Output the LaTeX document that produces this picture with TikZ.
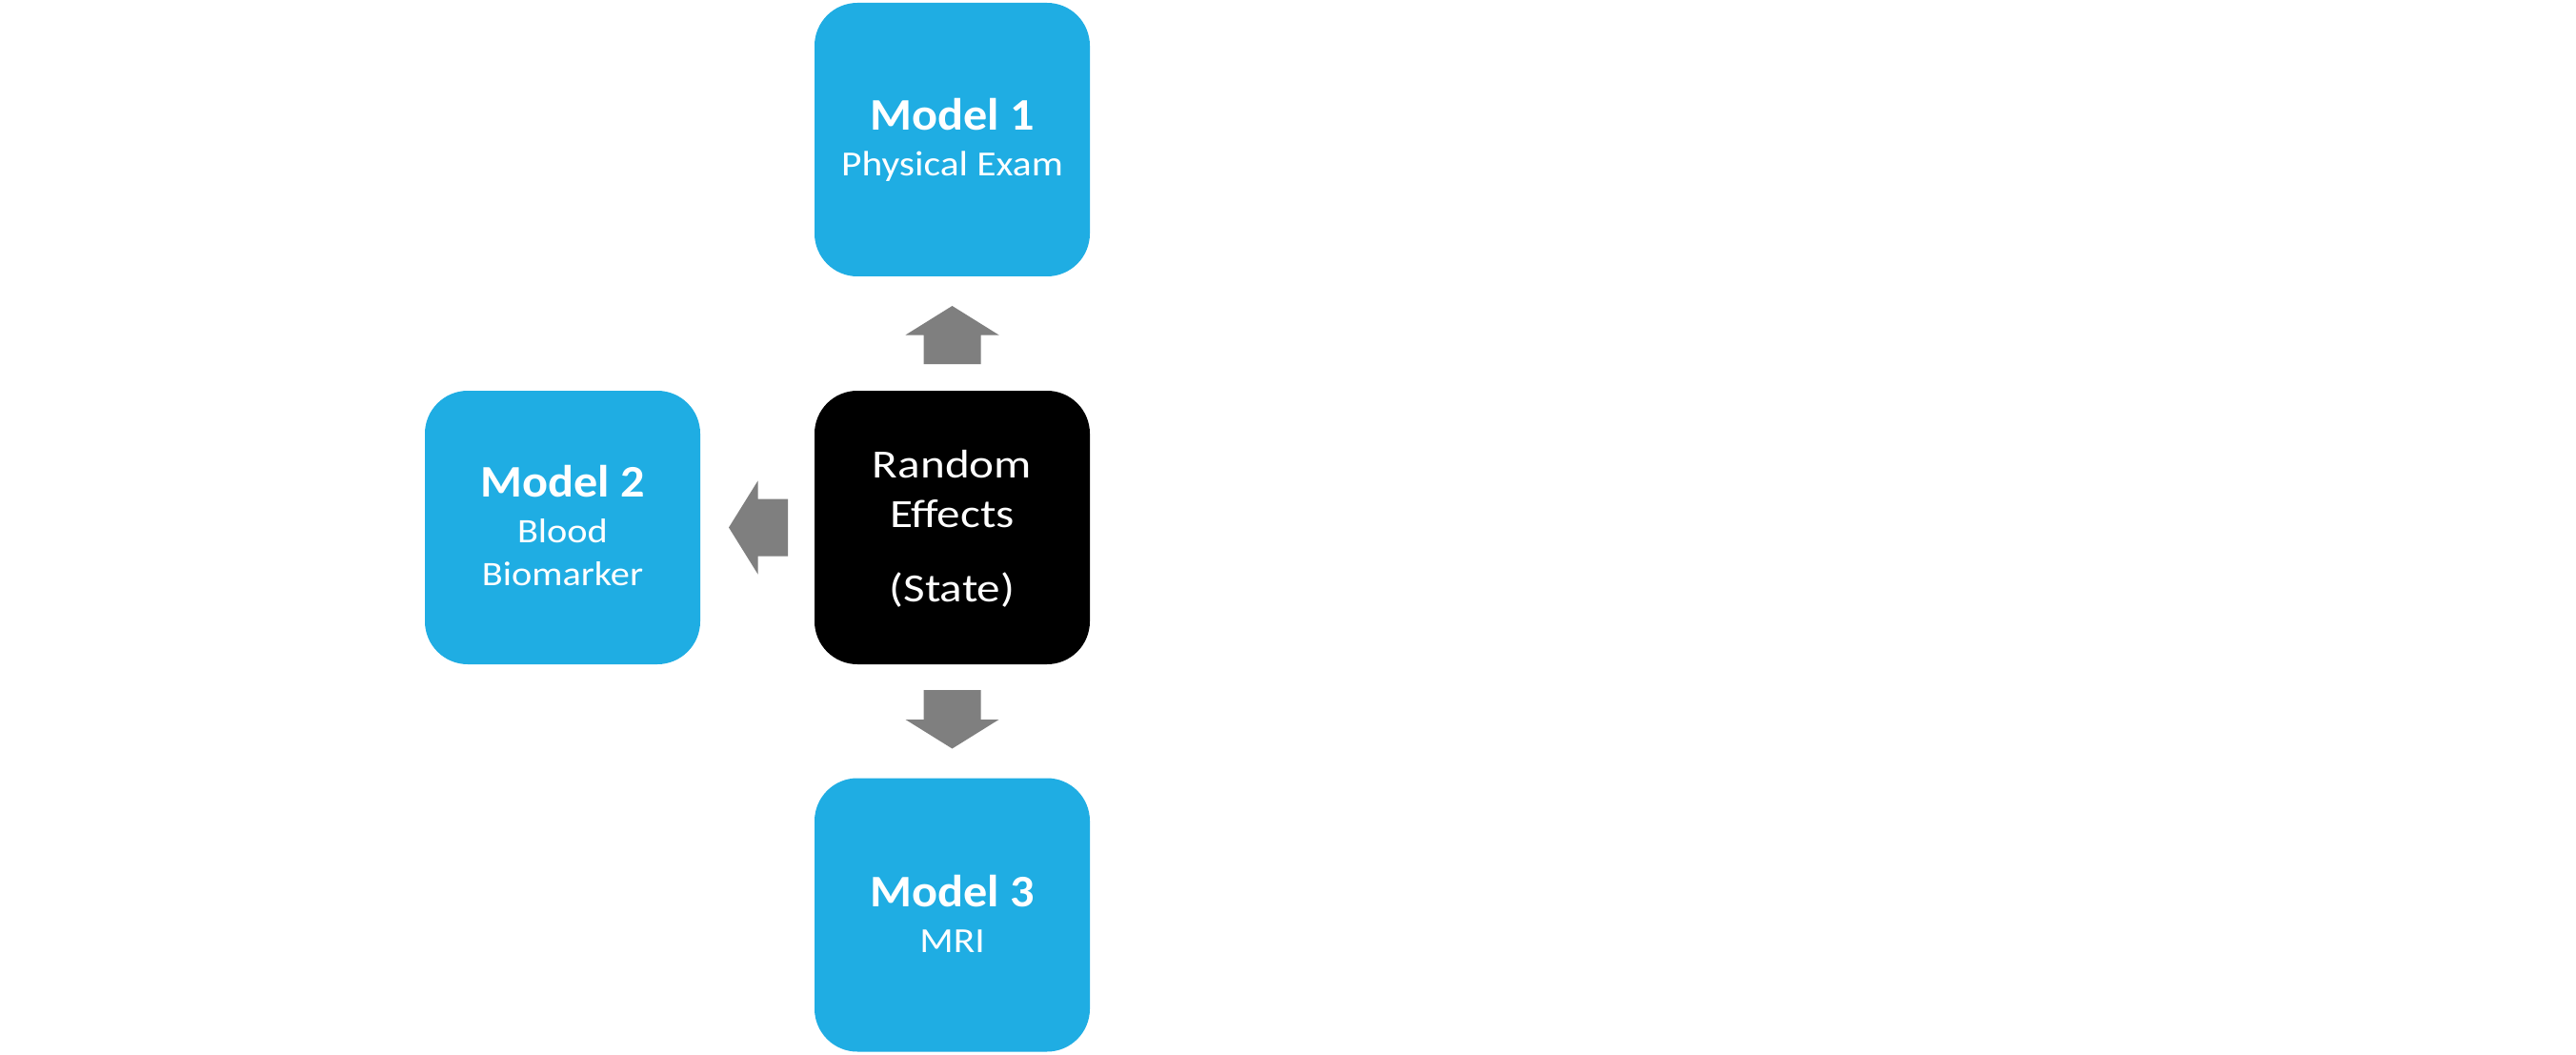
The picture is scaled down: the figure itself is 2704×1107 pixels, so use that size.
\documentclass[tikz,border=0pt]{standalone}
\usepackage{fontspec}
\setmainfont{Carlito}
\newfontfamily\fontbold[FakeStretch=1.06]{Carlito}
\newfontfamily\fontsub[FakeStretch=1.12]{Carlito}
\newfontfamily\fontre[FakeStretch=1.17]{Carlito}
\usetikzlibrary{calc}
\definecolor{boxblue}{HTML}{1FADE3}
\definecolor{arrowgray}{HTML}{7F7F7F}
\newcommand\blockarrow[2]{%
  \coordinate (ah) at ($(#2)!15.25pt!(#1)$);
  \fill[arrowgray] ($(#1)!15pt!90:(#2)$) -- ($(ah)!15pt!90:(#2)$)
    -- ($(ah)!24.5pt!90:(#2)$) -- (#2) -- ($(ah)!24.5pt!-90:(#2)$)
    -- ($(ah)!15pt!-90:(#2)$) -- ($(#1)!15pt!-90:(#2)$) -- cycle;}
\begin{document}
\begin{tikzpicture}[x=0.5pt,y=-0.5pt,
  box/.style={rectangle, rounded corners=22.5pt, minimum width=144.5pt,
    minimum height=143.5pt, inner sep=0pt, outer sep=0pt},
  bluebox/.style={box, fill=boxblue},
  blackbox/.style={box, fill=black},
  title/.style={text=white, anchor=base, inner sep=0pt,
    font=\fontbold\bfseries\fontsize{23.7}{28}\selectfont},
  sub/.style={text=white, anchor=base, inner sep=0pt,
    font=\fontsub\fontsize{18.5}{22}\selectfont},
  subs/.style={text=white, anchor=base, inner sep=0pt,
    font=\fontsub\fontsize{18}{22}\selectfont},
  retext/.style={text=white, anchor=base, inner sep=0pt,
    font=\fontre\fontsize{21}{25}\selectfont}]
\useasboundingbox (0,0) rectangle (2704,1107);
\fill[white] (0,0) rectangle (2704,1107);
% boxes
\node[bluebox] (m1) at (999.5,146.5) {};
\node[blackbox] (re) at (999.5,553.5) {};
\node[bluebox] (m2) at (590.5,553.5) {};
\node[bluebox] (m3) at (999.5,960) {};
% texts
\node[title] (m1t) at (999.5,136.7) {Model 1};
\node[sub] (m1s) at (999.5,184.3) {Physical Exam};
\node[title] (m2t) at (590.5,521.7) {Model 2};
\node[subs] (m2s) at (590.5,569) {Blood};
\node[subs] (m2u) at (590.5,614) {Biomarker};
\node[title] (m3t) at (999.5,951.7) {Model 3};
\node[sub] (m3s) at (999.5,999) {MRI};
\node[retext] (re1) at (999.5,501.7) {Random};
\node[retext] (re2) at (999.5,553.3) {Effects};
\node[retext] (re3) at (999.5,631) {(State)};
% arrows
\coordinate (ua) at ([yshift=14pt]re.north);
\coordinate (ub) at ([yshift=-15.5pt]m1.south);
\coordinate (da) at ([yshift=-13.5pt]re.south);
\coordinate (db) at ([yshift=15.5pt]m3.north);
\coordinate (la) at ([xshift=-14pt]re.west);
\coordinate (lb) at ([xshift=15pt]m2.east);
\blockarrow{ua}{ub}
\blockarrow{da}{db}
\blockarrow{la}{lb}
\end{tikzpicture}
\end{document}
